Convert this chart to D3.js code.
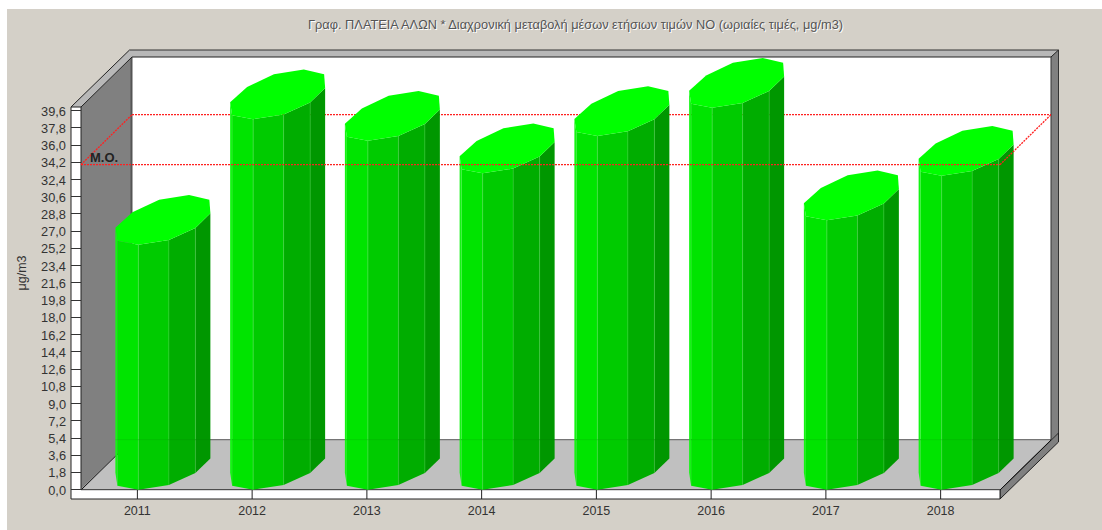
<!DOCTYPE html>
<html><head><meta charset="utf-8">
<script src="https://cdn.jsdelivr.net/npm/d3@7/dist/d3.min.js"></script>
<style>html,body{margin:0;padding:0;background:#fff}svg{display:block}</style>
</head><body><svg id="c" width="1102" height="530"></svg>
<script>
const years = ["2011","2012","2013","2014","2015","2016","2017","2018"];
const values = [25.6, 38.7, 36.45, 33.05, 36.95, 39.9, 28.15, 32.8];
const meanValue = 33.95;
const yTicks = ["0,0","1,8","3,6","5,4","7,2","9,0","10,8","12,6","14,4","16,2","18,0","19,8","21,6","23,4","25,2","27,0","28,8","30,6","32,4","34,2","36,0","37,8","39,6"];
const title = "Γραφ. ΠΛΑΤΕΙΑ ΑΛΩΝ * Διαχρονική μεταβολή μέσων ετήσιων τιμών NO (ωριαίες τιμές, μg/m3)";
const yLabel = "μg/m3";
const meanLabel = "Μ.Ο.";
const faceColors = ["#00e400","#00cb00","#00ad00","#009700"];
const FONT = "'Liberation Sans',Arial,sans-serif";

const svg = d3.select("#c");
const x = d3.scaleBand().domain(years).range([80,998]);
const y = d3.scaleLinear().domain([0,39.6]).range([489.7,110.6]);
const poly = (pts,fill,stroke,sw) => svg.append("polygon").attr("points",pts.map(p=>p.join(",")).join(" "))
  .attr("fill",fill).attr("stroke",stroke||"none").attr("stroke-width",sw||0);
const line = (a,b,c,d,col,w,dash) => svg.append("line").attr("x1",a).attr("y1",b).attr("x2",c).attr("y2",d)
  .attr("stroke",col).attr("stroke-width",w||1).attr("stroke-dasharray",dash||null);

// background
svg.append("rect").attr("x",7).attr("y",9).attr("width",1095).attr("height",521).attr("fill","#d4d0c8");

// walls
const dy=-50;
const y0=y(0);
poly([[132,57],[1051,57],[1051,440],[132,440]],"#ffffff");
poly([[81,107],[132,57],[132,440],[81,490]],"#808080");
poly([[80,490],[132,440],[1051,440],[1000,490]],"#c0c0c0");
line(131.5,57,131.5,440,"#555",2);
line(132,439.7,1051,439.7,"#555",1);
line(81,490,132,440,"#111",1);
// top and right frame
poly([[71,107],[129.5,50],[1058.5,50],[1051,57],[132,57],[81,107]],"#b8b8b8");
poly([[1051,57],[1058.5,50],[1058.5,433],[1051,440]],"#808080");
line(71,107,129.5,50,"#222",1);
line(81,107,132,57,"#222",1);
line(129.5,50,1058.5,50,"#333",1.2);
line(132,57,1051,57,"#222",1);
line(1051,57,1051,440,"#333",1);
line(1058.5,50,1058.5,433,"#333",1);
line(1051,57,1058.5,50,"#222",1);
// front strips
poly([[1000,490],[1058.5,433],[1058.5,442],[1000,499]],"#808080","#222",1);
line(1000,490,1051,440,"#111",1);
svg.append("rect").attr("x",71).attr("y",107).attr("width",10).attr("height",392).attr("fill","#fff");
svg.append("rect").attr("x",71).attr("y",490).attr("width",929).attr("height",9).attr("fill","#fff");
line(71,107,71,499,"#222",1);
line(81,107,81,490,"#222",1);
line(71,107,81,107,"#222",1);
line(71,499,1000,499,"#222",1);
line(81,489.7,1000,489.7,"#333",1);
line(1000,490,1000,499,"#222",1);

const RED="#ff2020", DASH="2,1", RW=1.3;
// back mean line (behind the bars)
const ym=y(meanValue);
line(132,ym+dy,1051,ym+dy,RED,RW,DASH);

// bars: ten-sided prisms
const ring=[[-22,-17],[-20,-4],[1,0],[31.5,-4.7],[58,-16.7],[73,-31.3],[72,-45],[51.7,-49.7],[21.8,-45],[-5,-32.3]];
years.forEach((yr,i)=>{
  const cx=x(yr)+x.bandwidth()/2, base=y0, top=y(values[i]);
  const at=(k,yy)=>[cx+ring[k][0],yy+ring[k][1]];
  poly([at(0,top),at(1,top),at(1,base),at(0,base)],"#14f514");
  [[1,2,0],[2,3,1],[3,4,2],[4,5,3]].forEach(([a,b,c])=>{
    poly([at(a,top),at(b,top),at(b,base),at(a,base)],faceColors[c]);
  });
  [[2,0.75],[3,0.35],[4,0.35]].forEach(([k,o])=>{
    const p=at(k,top),q=at(k,base);
    line(p[0],p[1],q[0],q[1],"#44e044",1).attr("stroke-opacity",o);
  });
  poly(ring.map((_,k)=>at(k,top)),"#00ff00");
  // floor back line showing faintly through
  line(at(0,0)[0],439.7,at(5,0)[0],439.7,"#006600",1).attr("stroke-opacity",0.12);
});

// front mean line
line(81,ym,1000,ym,RED,RW,DASH);
line(81,ym,132,ym+dy,RED,RW,DASH);
line(1000,ym,1051,ym+dy,RED,RW,DASH);
svg.append("text").attr("x",90).attr("y",161.5).attr("font-family",FONT).attr("font-size",13).attr("font-weight","bold").attr("fill","#222").text(meanLabel);

// y axis ticks and labels
yTicks.forEach(t=>{
  const v=+t.replace(",",".");
  line(71,y(v),81,y(v),"#333",1).attr("shape-rendering","crispEdges");
  svg.append("text").attr("x",66).attr("y",y(v)+5).attr("text-anchor","end")
    .attr("font-family",FONT).attr("font-size",12.8).attr("fill","#333").text(t);
});
svg.append("text").attr("transform","translate(26,273) rotate(-90)").attr("text-anchor","middle")
  .attr("font-family",FONT).attr("font-size",12.5).attr("fill","#333").text(yLabel);

// x axis
years.forEach(yr=>{
  const cx=x(yr)+x.bandwidth()/2;
  line(cx,490,cx,499,"#222",1);
  svg.append("text").attr("x",cx).attr("y",514.5).attr("text-anchor","middle")
    .attr("font-family",FONT).attr("font-size",12.5).attr("fill","#333").text(yr);
});

// title with embossed shadow
const tt=(ox,oy,c)=>svg.append("text").attr("x",575.5+ox).attr("y",29+oy).attr("text-anchor","middle")
  .attr("font-family",FONT).attr("font-size",12.8).attr("fill",c).text(title);
tt(1,1,"#ffffff");
tt(0,0,"#555555");
</script></body></html>
